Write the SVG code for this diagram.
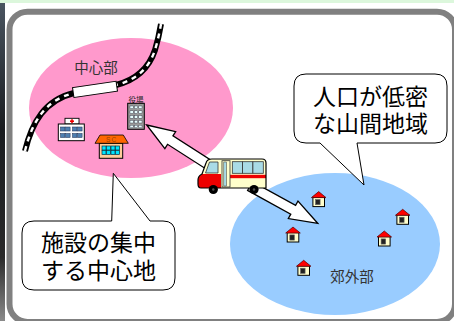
<svg xmlns="http://www.w3.org/2000/svg" width="454" height="321" viewBox="0 0 454 321">
  <defs>
    <linearGradient id="edgeShade" x1="0" y1="0" x2="0" y2="1">
      <stop offset="0" stop-color="#4a5560"/>
      <stop offset="0.4" stop-color="#1a1c20"/>
      <stop offset="0.8" stop-color="#2a2a2a"/>
      <stop offset="1" stop-color="#8a8a8a"/>
    </linearGradient>
    <!-- small house: origin at the centre of the roof base -->
    <symbol id="house" overflow="visible">
      <rect x="-5.8" y="0" width="11.6" height="9.3" fill="#ffffcc" stroke="#000" stroke-width="1"/>
      <rect x="-3.2" y="2.2" width="4.6" height="5.2" fill="#222" stroke="#666" stroke-width="0.6"/>
      <polygon points="-7.3,0.3 0,-5.7 7.3,0.3" fill="#ff0000" stroke="#550000" stroke-width="0.7"/>
    </symbol>
  </defs>
  <style>
    .frame { fill: none; stroke: #808080; stroke-width: 6; }
    .zoneLabel { font-family: "Noto Sans CJK JP", "Noto Sans", sans-serif; font-size: 14.5px; fill: #333; text-anchor: middle; }
    .callout { fill: #fff; stroke: #000; stroke-width: 1; }
    .calloutText { font-family: "Noto Sans CJK JP", "Noto Sans", sans-serif; font-size: 23px; fill: #000; text-anchor: middle; }
    .flow { fill: #fff; stroke: #000; stroke-width: 1.3; stroke-linejoin: miter; }
    .outline { stroke: #000; stroke-width: 1; }
  </style>

  <!-- page background -->
  <rect x="0" y="0" width="454" height="321" fill="#fff"/>
  <rect x="0" y="0" width="454" height="3" fill="#dcf7dc"/>
  <rect x="0" y="3" width="5" height="318" fill="url(#edgeShade)"/>
  <rect class="frame" x="9.5" y="11.7" width="445.5" height="310.3" rx="18"/>

  <!-- town centre zone -->
  <g id="centre">
    <ellipse cx="131" cy="108" rx="102" ry="70" fill="#ff99cc"/>
    <text class="zoneLabel" x="96" y="73">中心部</text>
  </g>

  <!-- suburban zone -->
  <g id="suburb">
    <ellipse cx="335" cy="244" rx="105" ry="71" fill="#99ccff"/>
    <text class="zoneLabel" x="352" y="282">郊外部</text>
    <use href="#house" x="318.7" y="197.3"/>
    <use href="#house" x="293" y="232.7"/>
    <use href="#house" x="303.7" y="266"/>
    <use href="#house" x="384.3" y="236.7"/>
    <use href="#house" x="402.7" y="215"/>
  </g>

  <!-- railway line with station -->
  <g id="railway">
    <path d="M25,151 C32,122 45,100 74,93 L116,85 C140,79 150,65 155,50 C158,40 160,30 161,24" fill="none" stroke="#000" stroke-width="6"/>
    <path d="M25,151 C32,122 45,100 74,93 L116,85 C140,79 150,65 155,50 C158,40 160,30 161,24" fill="none" stroke="#fff" stroke-width="2.4" stroke-dasharray="5 5"/>
    <rect x="73" y="84.4" width="44" height="10" fill="#fff" stroke="#000" stroke-width="1" transform="rotate(-8.3 95 89.4)"/>
  </g>

  <!-- hospital -->
  <g id="hospital">
    <rect x="65" y="118.3" width="14" height="5.7" fill="#fff" stroke="#000" stroke-width="0.9"/>
    <rect x="71.2" y="119.2" width="1.6" height="4" fill="#e00"/>
    <rect x="70" y="120.4" width="4" height="1.6" fill="#e00"/>
    <rect x="58.3" y="124" width="26" height="16.7" fill="#fff" stroke="#000" stroke-width="1"/>
    <g fill="#4f7fb0" stroke="#1a2a50" stroke-width="0.5">
      <rect x="60.5" y="127" width="4.5" height="4"/>
      <rect x="65.6" y="127" width="4.5" height="4"/>
      <rect x="72.5" y="127" width="4.5" height="4"/>
      <rect x="77.6" y="127" width="4.5" height="4"/>
      <rect x="60.5" y="133.5" width="4.5" height="4"/>
      <rect x="65.6" y="133.5" width="4.5" height="4"/>
      <rect x="72.5" y="133.5" width="4.5" height="4"/>
      <rect x="77.6" y="133.5" width="4.5" height="4"/>
    </g>
  </g>

  <!-- school -->
  <g id="school">
    <rect x="99.3" y="143.3" width="23.4" height="15" fill="#ffcc99" stroke="#000" stroke-width="1"/>
    <polygon points="100,135 123.3,135 128.3,143.3 95,143.3" fill="#ff6600" stroke="#000" stroke-width="0.8"/>
    <text x="111.6" y="141.6" font-family="Liberation Sans, sans-serif" font-size="6.5" fill="#994400" text-anchor="middle" letter-spacing="1">SC</text>
    <g fill="#00e5ff" stroke="#003344" stroke-width="0.7">
      <rect x="102" y="146" width="4" height="4"/>
      <rect x="106.5" y="146" width="4" height="4"/>
      <rect x="111" y="146" width="4" height="4"/>
      <rect x="115.5" y="146" width="4" height="4"/>
      <rect x="102" y="150.5" width="4" height="4"/>
      <rect x="106.5" y="150.5" width="4" height="4"/>
      <rect x="111" y="150.5" width="4" height="4"/>
      <rect x="115.5" y="150.5" width="4" height="4"/>
    </g>
  </g>

  <!-- town office -->
  <g id="office">
    <text x="136" y="102.8" font-family="Noto Sans CJK JP, sans-serif" font-size="7.5" fill="#222" text-anchor="middle">役場</text>
    <rect x="127.7" y="103.3" width="16.6" height="26" fill="#999" stroke="#000" stroke-width="1"/>
    <g fill="#e8ffff" stroke="#334" stroke-width="0.4">
      <rect x="130" y="106" width="3.2" height="2.6"/>
      <rect x="134.4" y="106" width="3.2" height="2.6"/>
      <rect x="138.8" y="106" width="3.2" height="2.6"/>
      <rect x="130" y="110.8" width="3.2" height="2.6"/>
      <rect x="134.4" y="110.8" width="3.2" height="2.6"/>
      <rect x="138.8" y="110.8" width="3.2" height="2.6"/>
      <rect x="130" y="115.6" width="3.2" height="2.6"/>
      <rect x="134.4" y="115.6" width="3.2" height="2.6"/>
      <rect x="138.8" y="115.6" width="3.2" height="2.6"/>
      <rect x="130" y="120.4" width="3.2" height="2.6"/>
      <rect x="134.4" y="120.4" width="3.2" height="2.6"/>
      <rect x="138.8" y="120.4" width="3.2" height="2.6"/>
      <rect x="130" y="125.2" width="3.2" height="2.6"/>
      <rect x="134.4" y="125.2" width="3.2" height="2.6"/>
      <rect x="138.8" y="125.2" width="3.2" height="2.6"/>
    </g>
  </g>

  <!-- callout: mountain area -->
  <g id="callout-mountain">
    <path class="callout" d="M306,74 H435 Q447,74 447,86 V131 Q447,143 435,143 H357 L364,185 L320,143 H306 Q294,143 294,131 V86 Q294,74 306,74 Z"/>
    <text class="calloutText" x="370.5" y="105">人口が低密</text>
    <text class="calloutText" x="370.5" y="132">な山間地域</text>
  </g>

  <!-- callout: town centre -->
  <g id="callout-centre">
    <path class="callout" d="M34,221 H111.7 L113.3,173.3 L150,221 H163 Q175,221 175,233 V278 Q175,290 163,290 H34 Q22,290 22,278 V233 Q22,221 34,221 Z"/>
    <text class="calloutText" x="98.5" y="251">施設の集中</text>
    <text class="calloutText" x="98.5" y="278.5">する中心地</text>
  </g>

  <!-- movement arrows -->
  <g id="connectors">
    <polygon class="flow" points="146.7,125 175.66,131.69 172.96,135.90 222.7,167.8 217.3,176.2 167.56,144.32 164.86,148.53"/>
    <polygon class="flow" points="317.7,223.3 298.0,201.03 295.59,205.41 252.41,181.62 247.59,190.38 290.77,214.17 288.36,218.55"/>
  </g>

  <!-- bus -->
  <g id="bus">
    <path d="M201,188 Q198,188 198,184 L198,180 Q198,176 202,174 L206,163 Q207,159 212,159 L262,159 Q266,159 266,163 L266,188 Z" fill="#ffffcc"/>
    <path d="M198,180 Q198,176 202,174 L221,174 L221,188 L201,188 Q198,188 198,184 Z" fill="#ee0000"/>
    <rect x="230" y="174.8" width="36" height="3.4" fill="#ee0000"/>
    <path d="M201,188 Q198,188 198,184 L198,180 Q198,176 202,174 L206,163 Q207,159 212,159 L262,159 Q266,159 266,163 L266,188 Z" fill="none" stroke="#000" stroke-width="1.2"/>
    <path d="M209.5,162 L218,162 L218,173 L205.5,173 Z" fill="#a9dbe6" stroke="#333" stroke-width="0.8"/>
    <rect x="222" y="160.7" width="8" height="26.3" fill="#ffffcc" stroke="#333" stroke-width="0.8"/>
    <rect x="223.8" y="162" width="2.6" height="24" fill="#a9dbe6" stroke="#333" stroke-width="0.5"/>
    <g fill="#a9dbe6" stroke="#333" stroke-width="0.8">
      <rect x="232.3" y="161.7" width="10.3" height="11.6"/>
      <rect x="242.6" y="161.7" width="10.3" height="11.6"/>
      <rect x="252.9" y="161.7" width="10.4" height="11.6"/>
    </g>
    <circle cx="213.3" cy="189.5" r="4.6" fill="#000"/>
    <circle cx="254" cy="189.5" r="4.6" fill="#000"/>
    <circle cx="213.3" cy="189.5" r="1.2" fill="#555"/>
    <circle cx="254" cy="189.5" r="1.2" fill="#555"/>
  </g>
</svg>
